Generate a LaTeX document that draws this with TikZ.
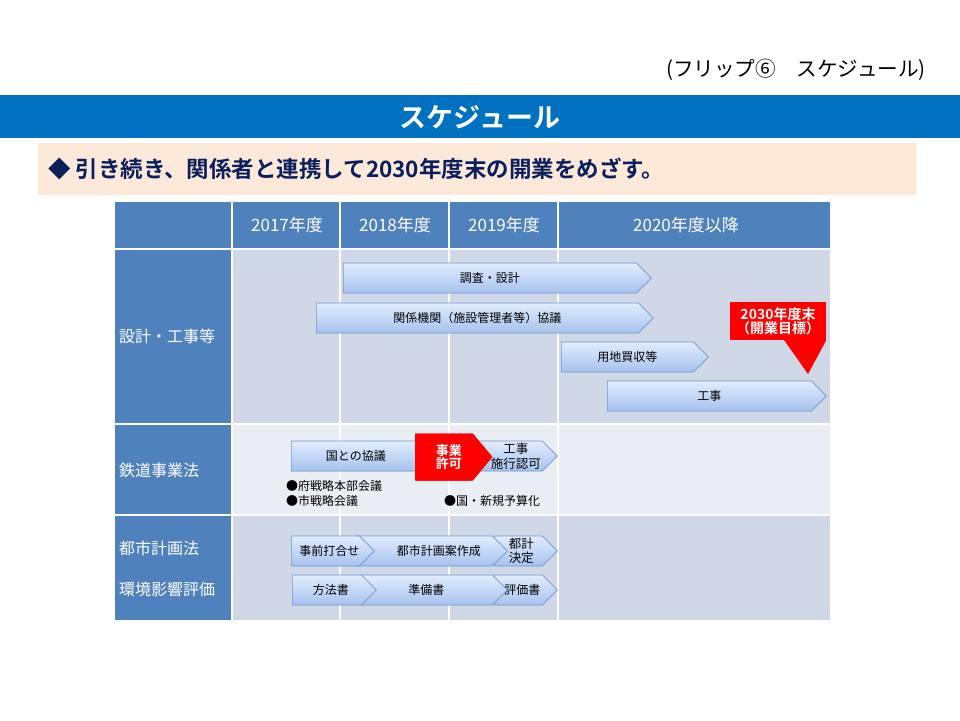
\documentclass[tikz,border=0pt]{standalone}
\usepackage{fontspec}
\setmainfont{Noto Sans CJK JP}[BoldFont={Noto Sans CJK JP Bold}]
\usetikzlibrary{shapes.symbols,calc}
\definecolor{banner}{HTML}{0070C0}
\definecolor{peach}{HTML}{FDE9D9}
\definecolor{navy}{HTML}{0B1F5C}
\definecolor{hdrblue}{HTML}{4F81BD}
\definecolor{rowdark}{HTML}{D0D8E8}
\definecolor{rowlight}{HTML}{E9EDF4}
\definecolor{chevtop}{HTML}{E2ECFD}
\definecolor{chevbot}{HTML}{A6C2EE}
\definecolor{chevline}{HTML}{7196C8}
\newcommand{\fs}[1]{\fontsize{#1}{#1}\selectfont}

\begin{document}
\begin{tikzpicture}[x=1pt,y=-1pt,
  chev/.style={signal, signal to=east, signal pointer angle=90, draw=chevline, line width=.7pt,
    top color=chevtop, bottom color=chevbot, minimum height=30pt, inner sep=0pt,
    anchor=west, align=center, font=\fs{12}},
  lbl/.style={text=white, anchor=west, inner sep=0pt, font=\fs{16}},
  hdr/.style={text=white, font=\fs{17}},
  note/.style={anchor=west, inner sep=0pt, font=\fs{12}},
  grid/.style={white, line width=1.5pt}]
\useasboundingbox (0,0) rectangle (960,720);

% title area
\node[anchor=east, inner sep=0pt, font=\fs{20.6}] (flip) at (926,70) {(フリップ⑥　スケジュール)};
\fill[banner] (0,95) rectangle (960,138);
\node[text=white, font=\bfseries\fs{27}] (title) at (480,117) {スケジュール};
\fill[peach] (38,143) rectangle (916,195);
\node[anchor=west, inner sep=0pt, text=navy, font=\bfseries\fs{22.5}] (aim) at (48,169)
  {◆ 引き続き、関係者と連携して2030年度末の開業をめざす。};

% table
\fill[hdrblue] (115,202) rectangle (830,248);
\fill[hdrblue] (115,250) rectangle (232,620);
\fill[rowdark] (232,250) rectangle (830,423);
\fill[rowlight] (232,425) rectangle (830,514);
\fill[rowdark] (232,516) rectangle (830,620);
\foreach \x in {232,340,449,558} \draw[grid] (\x,202) -- (\x,620);
\foreach \y in {249,424,515} \draw[grid] (115,\y) -- (830,\y);

\node[hdr] (y17) at (287,225) {2017年度};
\node[hdr] (y18) at (395,225) {2018年度};
\node[hdr] (y19) at (504,225) {2019年度};
\node[hdr] (y20) at (686,225) {2020年度以降};

\node[lbl] (rdesign) at (119,336) {設計・工事等};
\node[lbl] (rrail) at (119,470) {鉄道事業法};
\node[lbl] (rcity) at (119,548) {都市計画法};
\node[lbl] (renv) at (119,589) {環境影響評価};

% design / construction
\node[chev, minimum width=308pt] (survey) at (343,278) {調査・設計};
\node[chev, minimum width=337pt] (talks) at (316,318) {関係機関（施設管理者等）協議};
\node[chev, minimum width=147pt] (land) at (561,357) {用地買収等};
\node[chev, minimum width=219pt] (works) at (607,396) {工事};
\node[fill=red, text=white, minimum width=96pt, minimum height=38pt, inner sep=0pt,
  align=center, font=\bfseries\fs{14}] (goal) at (778,321) {2030年度末\\（開業目標）};
\coordinate (goaltip) at (808,374);
\fill[red] (goal.south east) -- ($(goal.south east)+(-42,0)$) -- (goaltip) -- cycle;

% railway business act
\node[chev, minimum width=150pt] (state) at (291,456) {\hspace*{-6pt}国との協議};
\node[chev, minimum width=79pt, font=\fs{12.5}] (permit) at (478,456) {\hspace*{11pt}\shortstack{工事\\施行認可}};
\node[chev, signal pointer angle=100, draw=none, fill=red, top color=red, bottom color=red,
  minimum width=77pt, minimum height=47pt, text=white, font=\bfseries\fs{13}] (license) at (415,457) {\hspace*{10pt}事業\\\hspace*{10pt}許可};
\node[note] (n1) at (286,486) {●府戦略本部会議};
\node[note] (n2) at (286,501) {●市戦略会議};
\node[note] (n3) at (444,501) {●国・新規予算化};

% city planning / environment
\node[chev, minimum width=63pt, font=\fs{12.5}] (decide) at (494,551) {\hspace*{6pt}\shortstack{都計\\決定}};
\node[chev, minimum width=152pt] (plan) at (355,551) {\hspace*{30pt}都市計画案作成};
\node[chev, minimum width=78pt] (prior) at (291,551) {\hspace*{8pt}事前打合せ};
\node[chev, minimum width=63pt] (report) at (494,590) {\hspace*{8pt}評価書};
\node[chev, minimum width=147pt] (prep) at (360,590) {準備書};
\node[chev, minimum width=84pt] (method) at (292,590) {\hspace*{8pt}方法書};
\end{tikzpicture}
\end{document}
